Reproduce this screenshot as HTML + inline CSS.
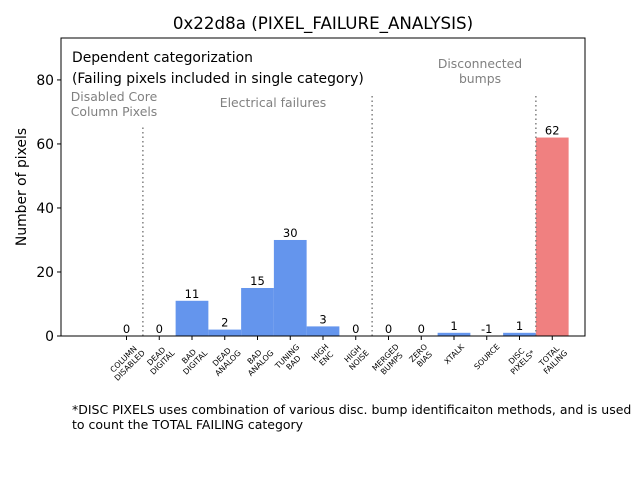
<!DOCTYPE html>
<html><head><meta charset="utf-8"><style>
body{margin:0;background:#fff;}
svg{display:block;font-family:"DejaVu Sans","Liberation Sans",sans-serif;}
</style></head><body>
<svg id="chart" width="640" height="480" viewBox="0 0 640 480">
<text x="323" y="29" font-size="16.7" text-anchor="middle">0x22d8a (PIXEL_FAILURE_ANALYSIS)</text>
<g id="bars"></g>
<g id="axes"></g>
<text x="72" y="62" font-size="13.9">Dependent categorization</text>
<text x="72" y="83" font-size="13.9">(Failing pixels included in single category)</text>
<text x="114" y="101" font-size="12.4" fill="#808080" text-anchor="middle">Disabled Core</text>
<text x="114" y="116" font-size="12.4" fill="#808080" text-anchor="middle">Column Pixels</text>
<text x="273" y="107" font-size="12.4" fill="#808080" text-anchor="middle">Electrical failures</text>
<text x="480" y="68" font-size="12.4" fill="#808080" text-anchor="middle">Disconnected</text>
<text x="480" y="83" font-size="12.4" fill="#808080" text-anchor="middle">bumps</text>
<text x="26" y="187" font-size="13.9" text-anchor="middle" transform="rotate(-90 26 187)">Number of pixels</text>
<text x="72" y="414" font-size="12.5">*DISC PIXELS uses combination of various disc. bump identificaiton methods, and is used</text>
<text x="72" y="429" font-size="12.5">to count the TOTAL FAILING category</text>
</svg>
<script>
const categories=["COLUMN\nDISABLED","DEAD\nDIGITAL","BAD\nDIGITAL","DEAD\nANALOG","BAD\nANALOG","TUNING\nBAD","HIGH\nENC","HIGH\nNOISE","MERGED\nBUMPS","ZERO\nBIAS","XTALK","SOURCE","DISC\nPIXELS*","TOTAL\nFAILING"];
const values=[0,0,11,2,15,30,3,0,0,0,1,-1,1,62];
const yTicks=[0,20,40,60,80];
const separators=[0.5,7.5,12.5];
const separatorTops=[66,75,75];
const NS="http://www.w3.org/2000/svg";
const L=61,R=585,T=38,B=336;
const xMin=-2,xMax=14,yMin=0,yMax=93.1;
function xs(v){return L+(v-xMin)/(xMax-xMin)*(R-L);}
function ys(v){return B-(v-yMin)/(yMax-yMin)*(B-T);}
function mk(tag,attrs,parent){const e=document.createElementNS(NS,tag);for(const k in attrs)e.setAttribute(k,attrs[k]);parent.appendChild(e);return e;}
const bars=document.getElementById('bars'),axes=document.getElementById('axes');
const bw=xs(1)-xs(0);
values.forEach((v,i)=>{
  const top=ys(Math.max(v,0));
  const r=mk('rect',{x:xs(i)-bw/2,y:top,width:bw,height:Math.max(B-top,0),fill:i===categories.length-1?'#f08080':'#6495ed'},bars);
  
  
  const t=mk('text',{x:xs(i),y:top-3,'font-size':11.5,'text-anchor':'middle'},bars);
  t.textContent=String(v);
  
  
});
separators.forEach((s,i)=>{
  const l=mk('line',{x1:xs(s),x2:xs(s),y1:B,y2:ys(separatorTops[i]),stroke:'#808080','stroke-width':1.5,'stroke-dasharray':'1.5,3'},axes);
  
  
});
const frame=mk('rect',{x:L,y:T,width:R-L,height:B-T,fill:'none',stroke:'#000','stroke-width':1},axes);


yTicks.forEach(v=>{
  mk('line',{x1:L-4,x2:L,y1:ys(v),y2:ys(v),stroke:'#000'},axes);
  const t=mk('text',{x:L-7,y:ys(v)+5,'font-size':13.9,'text-anchor':'end'},axes);
  t.textContent=v;
  
  
});
categories.forEach((c,i)=>{
  const x=xs(i);
  mk('line',{x1:x,x2:x,y1:B,y2:B+4,stroke:'#000'},axes);
  const g=mk('text',{'font-size':7.8,'text-anchor':'middle'},axes);
  
  
  const lines=c.split('\n');
  lines.forEach((ln,j)=>{
    const ts=mk('tspan',{x:0,y:(j-(lines.length-1)/2)*8.8+2.8},g);
    ts.textContent=ln;
  });
  const bb=g.getBBox();
  const ext=(bb.width+bb.height)/Math.SQRT2;
  g.setAttribute('transform',`translate(${x},${B+6+ext/2}) rotate(-45)`);
});
</script>
</body></html>
